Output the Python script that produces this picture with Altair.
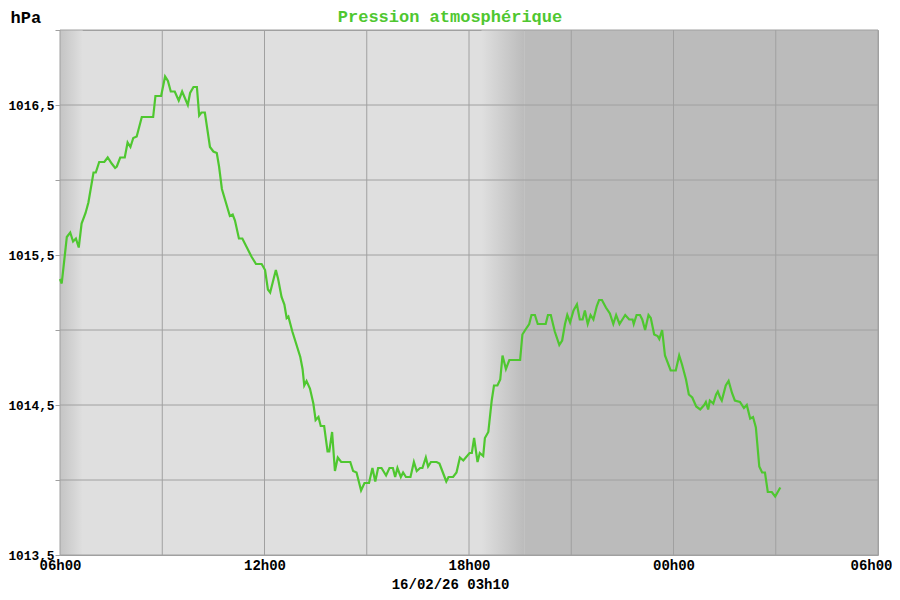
import altair as alt
import pandas as pd

# minutes after 06h00 (15/02) and pressure in hPa
minutes = [
    0, 3, 12, 18, 23, 28, 33, 38, 45, 50,
    59, 63, 69, 78, 84, 91, 97, 100, 106, 114,
    119, 124, 129, 135, 144, 164, 168, 178, 185, 190,
    195, 202, 209, 215, 225, 229, 235, 241, 245, 249,
    255, 264, 270, 276, 280, 285, 299, 304, 308, 315,
    321, 337, 345, 355, 361, 366, 370, 380, 384, 390,
    395, 399, 402, 409, 423, 427, 430, 434, 440, 446,
    450, 455, 459, 465, 471, 474, 479, 484, 489, 495,
    511, 516, 522, 530, 536, 544, 550, 555, 560, 566,
    574, 580, 586, 590, 594, 600, 604, 609, 617, 623,
    628, 634, 638, 644, 648, 653, 663, 668, 675, 680,
    684, 692, 698, 704, 710, 721, 725, 729, 735, 739,
    745, 748, 754, 760, 764, 770, 775, 779, 785, 791,
    810, 814, 819, 826, 830, 836, 841, 855, 859, 864,
    871, 879, 884, 889, 893, 898, 904, 910, 915, 920,
    924, 929, 934, 939, 945, 949, 954, 961, 968, 974,
    979, 985, 995, 1002, 1008, 1010, 1015, 1021, 1025, 1030,
    1036, 1040, 1046, 1052, 1055, 1060, 1065, 1075, 1084, 1090,
    1095, 1102, 1107, 1113, 1120, 1127, 1134, 1137, 1141, 1144,
    1150, 1155, 1158, 1162, 1165, 1172, 1177, 1183, 1188, 1197,
    1204, 1209, 1215, 1220, 1225, 1231, 1236, 1241, 1246, 1253,
    1259, 1268,
]
hpa = [
    1015.34, 1015.31, 1015.62, 1015.65, 1015.59, 1015.61, 1015.55, 1015.71, 1015.78, 1015.85,
    1016.05, 1016.05, 1016.12, 1016.12, 1016.15, 1016.11, 1016.08, 1016.09, 1016.15, 1016.15,
    1016.25, 1016.22, 1016.28, 1016.29, 1016.42, 1016.42, 1016.56, 1016.56, 1016.69, 1016.66,
    1016.59, 1016.59, 1016.53, 1016.59, 1016.50, 1016.58, 1016.62, 1016.62, 1016.43, 1016.45,
    1016.45, 1016.22, 1016.19, 1016.18, 1016.09, 1015.94, 1015.76, 1015.77, 1015.73, 1015.61,
    1015.61, 1015.49, 1015.44, 1015.44, 1015.40, 1015.27, 1015.25, 1015.40, 1015.34, 1015.22,
    1015.17, 1015.08, 1015.09, 1014.99, 1014.82, 1014.74, 1014.63, 1014.66, 1014.61, 1014.51,
    1014.40, 1014.42, 1014.36, 1014.36, 1014.19, 1014.19, 1014.32, 1014.06, 1014.15, 1014.12,
    1014.12, 1014.06, 1014.05, 1013.93, 1013.98, 1013.98, 1014.08, 1013.99, 1014.08, 1014.08,
    1014.03, 1014.08, 1014.08, 1014.02, 1014.08, 1014.02, 1014.05, 1014.02, 1014.02, 1014.12,
    1014.06, 1014.08, 1014.08, 1014.15, 1014.09, 1014.12, 1014.12, 1014.11, 1014.04, 1013.99,
    1014.02, 1014.02, 1014.05, 1014.15, 1014.13, 1014.18, 1014.18, 1014.28, 1014.12, 1014.18,
    1014.16, 1014.28, 1014.32, 1014.53, 1014.63, 1014.63, 1014.67, 1014.83, 1014.74, 1014.80,
    1014.80, 1014.97, 1015.00, 1015.04, 1015.10, 1015.10, 1015.04, 1015.04, 1015.10, 1015.10,
    1014.99, 1014.90, 1014.93, 1015.04, 1015.10, 1015.05, 1015.13, 1015.17, 1015.07, 1015.07,
    1015.13, 1015.04, 1015.10, 1015.07, 1015.16, 1015.20, 1015.20, 1015.15, 1015.11, 1015.04,
    1015.10, 1015.04, 1015.10, 1015.07, 1015.07, 1015.04, 1015.10, 1015.10, 1015.07, 1015.00,
    1015.10, 1015.08, 1014.97, 1014.96, 1014.94, 1015.00, 1014.83, 1014.73, 1014.73, 1014.83,
    1014.77, 1014.67, 1014.57, 1014.55, 1014.49, 1014.47, 1014.50, 1014.52, 1014.47, 1014.53,
    1014.51, 1014.57, 1014.59, 1014.55, 1014.53, 1014.63, 1014.66, 1014.58, 1014.53, 1014.52,
    1014.48, 1014.50, 1014.41, 1014.42, 1014.35, 1014.09, 1014.05, 1014.05, 1013.92, 1013.92,
    1013.89, 1013.95,
]

x_ticks = [0, 180, 360, 540, 720, 900, 1080, 1260, 1440]
y_ticks = [1013.5, 1014.0, 1014.5, 1015.0, 1015.5, 1016.0, 1016.5, 1017.0]

# shaded periods (minutes after 06h00)
dawn_fade = [0, 40]
dusk_fade = [742, 818]
night = [818, 1440]

TITLE = "Pression atmosphérique"
GREEN = "#4fc730"
GRID = "#a0a0a0"
LIGHT = "#dfdfdf"
DARK = "#bbbbbb"
FONT = "Liberation Mono"

xscale = alt.Scale(domain=[0, 1440], nice=False, zero=False)
yscale = alt.Scale(domain=[1013.5, 1017.0], nice=False, zero=False)

x_axis = alt.Axis(
    values=x_ticks, grid=False, domain=False, ticks=False, labelPadding=3,
    labelOverlap=False, labelFlush=False,
    labelOffset={"condition": {"test": "datum.value == 1440", "value": -7}, "value": 0},
    labelExpr="datum.value % 360 == 0 ? ((((6 + datum.value / 60) % 24) < 10 ? '0' : '') + ((6 + datum.value / 60) % 24) + 'h00') : ''",
    labelFont=FONT, labelFontSize=14, labelFontWeight="bold", labelColor="black",
    title="16/02/26 03h10", titleX=390, titleY=33, titleAlign="center",
    titleBaseline="alphabetic", titleFont=FONT, titleFontSize=14,
    titleFontWeight="bold", titleColor="black",
)
y_axis = alt.Axis(
    values=y_ticks, grid=False, domain=False, ticks=True, tickSize=5,
    tickColor=GRID, labelPadding=1, labelOverlap=False,
    labelExpr="(datum.value * 2) % 2 == 1 ? replace(format(datum.value, '.1f'), '.', ',') : ''",
    labelFont=FONT, labelFontSize=12.8, labelFontWeight="bold", labelColor="black",
    title="hPa", titleAngle=0, titleX=-50, titleY=-8, titleAlign="left",
    titleBaseline="alphabetic", titleFont=FONT, titleFontSize=17,
    titleFontWeight="bold", titleColor="black",
)


def grad(c0, c1):
    return alt.LinearGradient(
        gradient="linear",
        stops=[alt.GradientStop(color=c0, offset=0), alt.GradientStop(color=c1, offset=1)],
        x1=0, x2=1, y1=0, y2=0,
    )


def band(span, color):
    d = pd.DataFrame({"a": [span[0]], "b": [span[1]]})
    return alt.Chart(d).mark_rect(color=color).encode(
        x=alt.X("a:Q", scale=xscale, axis=x_axis), x2="b:Q"
    )


dawn_rect = band(dawn_fade, grad("#c4c4c4", LIGHT))
dusk_rect = band(dusk_fade, grad(LIGHT, DARK))
night_rect = band(night, DARK)

xgrid = alt.Chart(pd.DataFrame({"x": x_ticks})).mark_rule(color=GRID, strokeWidth=1).encode(
    x=alt.X("x:Q", scale=xscale, axis=x_axis)
)
ygrid = alt.Chart(pd.DataFrame({"y": y_ticks})).mark_rule(color=GRID, strokeWidth=1).encode(
    y=alt.Y("y:Q", scale=yscale, axis=y_axis)
)

df = pd.DataFrame({"t": minutes, "p": hpa})
line = alt.Chart(df).mark_line(color=GREEN, strokeWidth=2.2).encode(
    x=alt.X("t:Q", scale=xscale, axis=x_axis),
    y=alt.Y("p:Q", scale=yscale, axis=y_axis),
)

title_text = alt.Chart(pd.DataFrame({"label": [TITLE]})).mark_text(
    font=FONT, fontSize=17, fontWeight="bold", color=GREEN,
    align="center", baseline="alphabetic",
).encode(text="label:N", x=alt.value(390), y=alt.value(-8))

chart = alt.layer(dawn_rect, dusk_rect, night_rect, xgrid, ygrid, line, title_text).properties(
    width=818,
    height=525,
    padding={"left": 52, "top": 22, "right": 14, "bottom": 37},
    autosize=alt.AutoSizeParams(type="none"),
).configure_view(fill=LIGHT, stroke=GRID, strokeWidth=1)

chart.save("out.html", embed_options={"renderer": "svg", "actions": False})
